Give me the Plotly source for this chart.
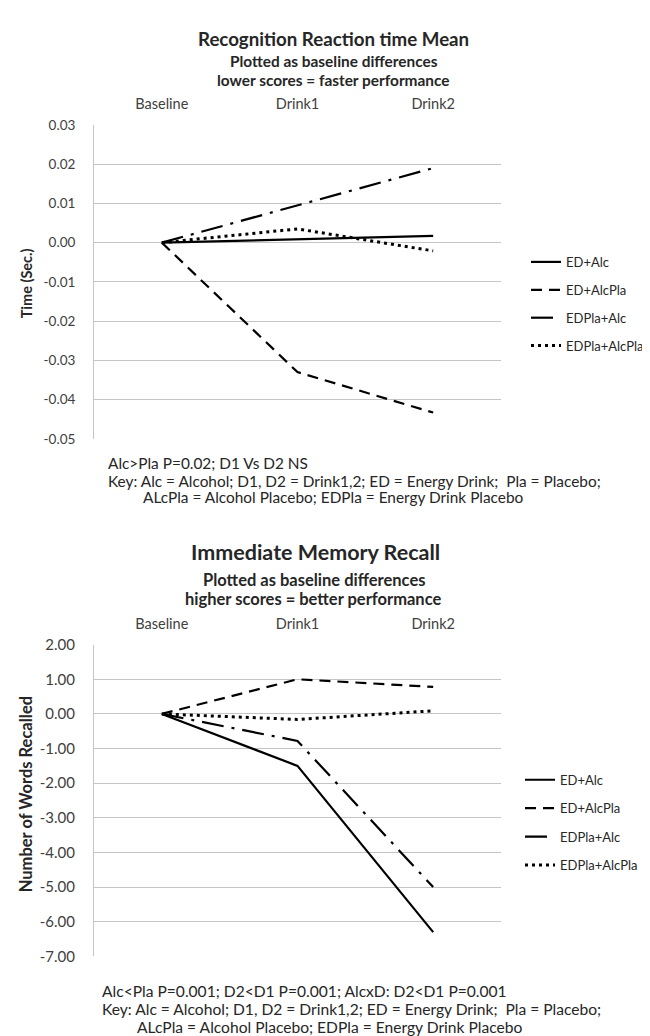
import plotly.graph_objects as go

W, H = 650, 1036
FONT = "Lato"

# ---------------- data ----------------
categories = ["Baseline", "Drink1", "Drink2"]
series_names = ["ED+Alc", "ED+AlcPla", "EDPla+Alc", "EDPla+AlcPla"]

# Recognition reaction time (baseline differences, sec.)
rt_ed_alc = [0.0, 0.0008, 0.0017]
rt_ed_alcpla = [0.0, -0.033, -0.0433]
rt_edpla_alc = [0.0, 0.0095, 0.019]
rt_edpla_alcpla = [0.0, 0.0035, -0.0021]

# Immediate memory recall (baseline differences, words)
mem_ed_alc = [0.0, -1.5, -6.3]
mem_ed_alcpla = [0.0, 1.0, 0.78]
mem_edpla_alc = [0.0, -0.78, -5.0]
mem_edpla_alcpla = [0.0, -0.16, 0.09]

rt_tickvals = [0.03, 0.02, 0.01, 0.0, -0.01, -0.02, -0.03, -0.04, -0.05]
rt_ticktext = ["0.03", "0.02", "0.01", "0.00", "-0.01", "-0.02", "-0.03", "-0.04", "-0.05"]
mem_tickvals = [2, 1, 0, -1, -2, -3, -4, -5, -6, -7]
mem_ticktext = ["2.00", "1.00", "0.00", "-1.00", "-2.00", "-3.00", "-4.00", "-5.00", "-6.00", "-7.00"]

# ---------------- styling ----------------
def px(x):
    return x / W

def py(y):
    return 1 - y / H

dashes = ["solid", "11px,7px", "22px,8px,3px,8px", "3px,4px"]
widths = [2.2, 2.2, 2.2, 3]
GRID = "#c4c4c4"
TXT = "#262626"
TICK = "#404040"

fig = go.Figure()

rt_series = [rt_ed_alc, rt_ed_alcpla, rt_edpla_alc, rt_edpla_alcpla]
mem_series = [mem_ed_alc, mem_ed_alcpla, mem_edpla_alc, mem_edpla_alcpla]

for name, vals, d, w in zip(series_names, rt_series, dashes, widths):
    fig.add_trace(go.Scatter(
        x=categories, y=vals, mode="lines", name=name,
        line=dict(color="black", width=w, dash=d),
        xaxis="x", yaxis="y", legend="legend", legendgroup=name + "_1",
    ))

for name, vals, d, w in zip(series_names, mem_series, dashes, widths):
    fig.add_trace(go.Scatter(
        x=categories, y=vals, mode="lines", name=name,
        line=dict(color="black", width=w, dash=d),
        xaxis="x2", yaxis="y2", legend="legend2", legendgroup=name + "_2",
    ))

xcommon = dict(
    type="category", range=[-0.5, 2.5], side="top", showgrid=False,
    showline=False, zeroline=False, ticks="", ticklabelstandoff=12,
    tickfont=dict(family=FONT, size=14.5, color=TICK),
)
ycommon = dict(
    showgrid=True, gridcolor=GRID, gridwidth=1, showline=True, linecolor=GRID,
    linewidth=1, zeroline=False, ticks="", ticklabelstandoff=15,
)

legcommon = dict(
    font=dict(family=FONT, size=13, color=TXT), bgcolor="rgba(0,0,0,0)",
    xanchor="left", yanchor="top", itemwidth=30,
)

fig.update_layout(
    width=W, height=H, margin=dict(l=0, r=0, t=0, b=0),
    paper_bgcolor="white", plot_bgcolor="white",
    font=dict(family=FONT, color=TXT),
    xaxis=dict(domain=[px(86), px(493)], anchor="y", **xcommon),
    yaxis=dict(domain=[py(428.3), py(108.8)], anchor="x", range=[-0.05, 0.03],
               tickvals=rt_tickvals, ticktext=rt_ticktext,
               tickfont=dict(family=FONT, size=13.5, color=TICK), **ycommon),
    xaxis2=dict(domain=[px(86), px(493)], anchor="y2", **xcommon),
    yaxis2=dict(domain=[py(955), py(637.7)], anchor="x2", range=[-7, 2],
                tickvals=mem_tickvals, ticktext=mem_ticktext,
                tickfont=dict(family=FONT, size=15, color=TICK), **ycommon),
    legend=dict(x=px(518), y=py(233), tracegroupgap=8, **legcommon),
    legend2=dict(x=px(512), y=py(760), tracegroupgap=8.5, **legcommon),
    showlegend=True,
)

def note(text, x, y, size=13, anchor="left", bold=False, angle=0):
    if bold:
        text = "<b>" + text + "</b>"
    fig.add_annotation(
        text=text, xref="paper", yref="paper", x=px(x), y=py(y),
        xanchor=anchor, yanchor="middle", showarrow=False, textangle=angle,
        font=dict(family=FONT, size=size, color=TXT),
    )

# chart 1 titles
note("Recognition Reaction time Mean", 326, 21.7, size=18.7, anchor="center", bold=True)
note("Plotted as baseline differences", 326, 43.3, size=15.4, anchor="center", bold=True)
note("lower scores = faster performance", 326, 62.7, size=15.4, anchor="center", bold=True)
note("Time (Sec.)", 18, 270, size=14.5, anchor="center", bold=True, angle=-90)
note("Alc&gt;Pla P=0.02; D1 Vs D2 NS", 98, 452.7, size=15.4)
note("Key: Alc = Alcohol; D1, D2 = Drink1,2; ED = Energy Drink;\u00a0 Pla = Placebo;", 98, 470.7, size=15.4)
note("ALcPla = Alcohol Placebo; EDPla = Energy Drink Placebo", 133, 487.3, size=15.4)

# chart 2 titles
note("Immediate Memory Recall", 307, 543.3, size=21.5, anchor="center", bold=True)
note("Plotted as baseline differences", 306, 571.7, size=16.5, anchor="center", bold=True)
note("higher scores = better performance", 305, 591, size=16.5, anchor="center", bold=True)
note("Number of Words Recalled", 18, 790, size=16.5, anchor="center", bold=True, angle=-90)
note("Alc&lt;Pla P=0.001; D2&lt;D1 P=0.001; AlcxD: D2&lt;D1 P=0.001", 92, 990.7, size=15.6)
note("Key: Alc = Alcohol; D1, D2 = Drink1,2; ED = Energy Drink;\u00a0 Pla = Placebo;", 92, 1009, size=15.6)
note("ALcPla = Alcohol Placebo; EDPla = Energy Drink Placebo", 127, 1026.7, size=15.6)

fig.write_html("out.html")
